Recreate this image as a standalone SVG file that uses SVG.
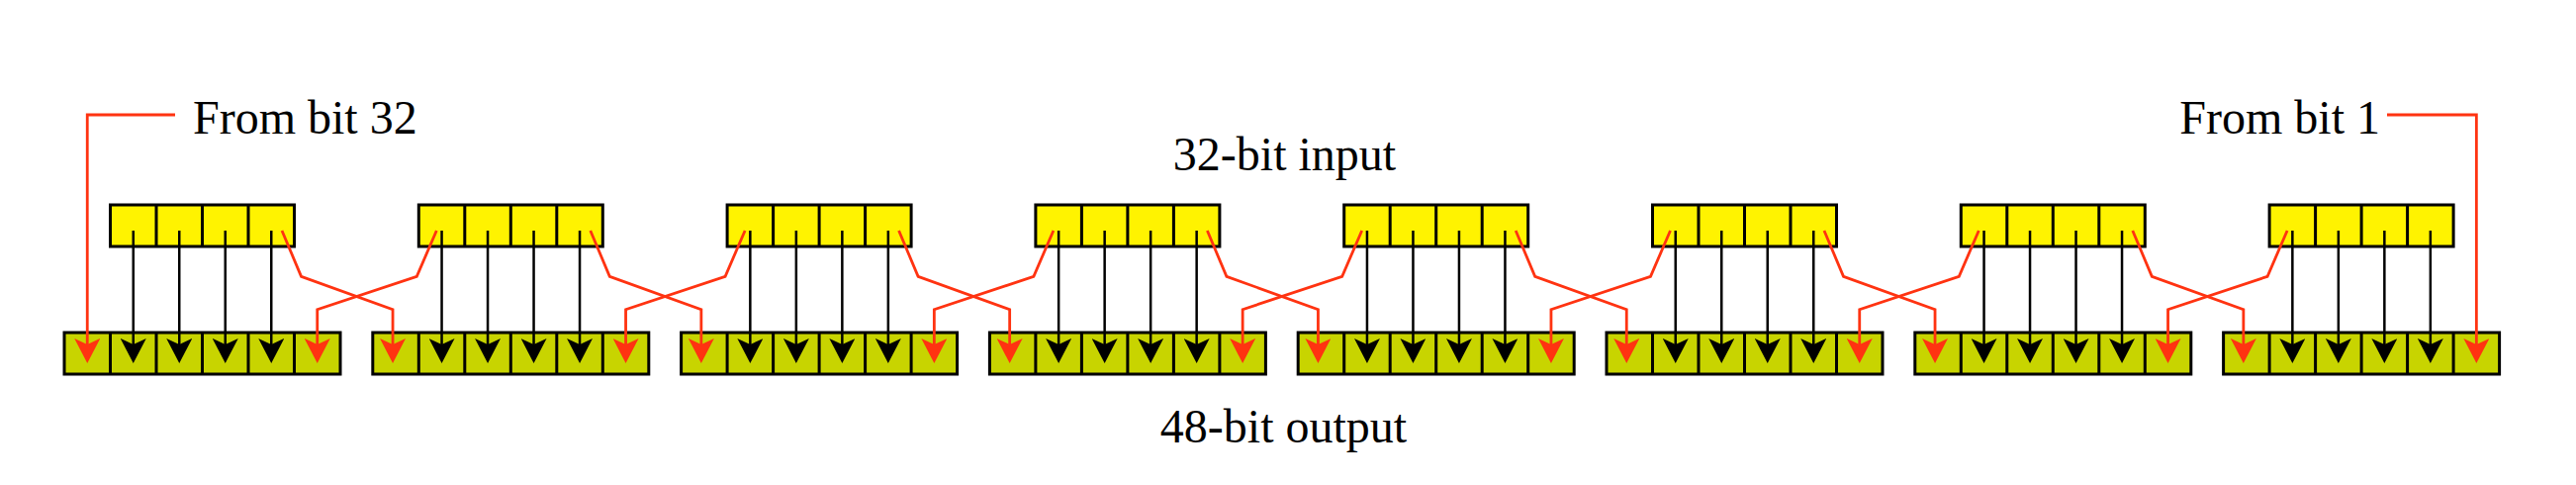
<svg xmlns="http://www.w3.org/2000/svg" width="2604" height="490" viewBox="0 0 2604 490">
<style>
.in{fill:#fff300;stroke:#000;stroke-width:3}
.out{fill:#c8d400;stroke:#000;stroke-width:3}
.div{fill:none;stroke:#000;stroke-width:3}
.blk{fill:none;stroke:#000;stroke-width:2.5;marker-end:url(#ah-b)}
.red{fill:none;stroke:#ff3311;stroke-width:2.8;stroke-linejoin:miter;marker-end:url(#ah-r)}
.lbl{font-family:"Liberation Serif","Times New Roman",serif;font-size:48px;fill:#000}
</style>
<defs>
<marker id="ah-b" viewBox="0 -13 25 26" refX="17" refY="0" markerWidth="25" markerHeight="26" markerUnits="userSpaceOnUse" orient="auto">
<path d="M0,-13 L25,0 L0,13 L6,0 Z" fill="#000"/>
</marker>
<marker id="ah-r" viewBox="0 -13 25 26" refX="17" refY="0" markerWidth="25" markerHeight="26" markerUnits="userSpaceOnUse" orient="auto">
<path d="M0,-13 L25,0 L0,13 L6,0 Z" fill="#ff3311"/>
</marker>
</defs>
<rect width="2604" height="490" fill="#fff"/>

<g id="labels">
<text id="lbl-input" class="lbl" x="1298.5" y="172" text-anchor="middle">32-bit input</text>
<text id="lbl-output" class="lbl" x="1297.5" y="447" text-anchor="middle">48-bit output</text>
<text id="lbl-bit32" class="lbl" x="195" y="135">From bit 32</text>
<text id="lbl-bit1" class="lbl" x="2406" y="135" text-anchor="end">From bit 1</text>
</g>

<g id="outputs">
<g id="out1" transform="translate(65 0)"><rect class="out" x="0" y="336" width="279" height="42"/><path class="div" d="M46.5 336V378M93 336V378M139.5 336V378M186 336V378M232.5 336V378"/></g>
<g id="out2" transform="translate(376.8 0)"><rect class="out" x="0" y="336" width="279" height="42"/><path class="div" d="M46.5 336V378M93 336V378M139.5 336V378M186 336V378M232.5 336V378"/></g>
<g id="out3" transform="translate(688.6 0)"><rect class="out" x="0" y="336" width="279" height="42"/><path class="div" d="M46.5 336V378M93 336V378M139.5 336V378M186 336V378M232.5 336V378"/></g>
<g id="out4" transform="translate(1000.4 0)"><rect class="out" x="0" y="336" width="279" height="42"/><path class="div" d="M46.5 336V378M93 336V378M139.5 336V378M186 336V378M232.5 336V378"/></g>
<g id="out5" transform="translate(1312.2 0)"><rect class="out" x="0" y="336" width="279" height="42"/><path class="div" d="M46.5 336V378M93 336V378M139.5 336V378M186 336V378M232.5 336V378"/></g>
<g id="out6" transform="translate(1624 0)"><rect class="out" x="0" y="336" width="279" height="42"/><path class="div" d="M46.5 336V378M93 336V378M139.5 336V378M186 336V378M232.5 336V378"/></g>
<g id="out7" transform="translate(1935.8 0)"><rect class="out" x="0" y="336" width="279" height="42"/><path class="div" d="M46.5 336V378M93 336V378M139.5 336V378M186 336V378M232.5 336V378"/></g>
<g id="out8" transform="translate(2247.6 0)"><rect class="out" x="0" y="336" width="279" height="42"/><path class="div" d="M46.5 336V378M93 336V378M139.5 336V378M186 336V378M232.5 336V378"/></g>
</g>

<g id="inputs">
<g id="in1" transform="translate(111.5 0)"><rect class="in" x="0" y="207" width="186" height="42"/><path class="div" d="M46.5 207V249M93 207V249M139.5 207V249"/></g>
<g id="in2" transform="translate(423.3 0)"><rect class="in" x="0" y="207" width="186" height="42"/><path class="div" d="M46.5 207V249M93 207V249M139.5 207V249"/></g>
<g id="in3" transform="translate(735.1 0)"><rect class="in" x="0" y="207" width="186" height="42"/><path class="div" d="M46.5 207V249M93 207V249M139.5 207V249"/></g>
<g id="in4" transform="translate(1046.9 0)"><rect class="in" x="0" y="207" width="186" height="42"/><path class="div" d="M46.5 207V249M93 207V249M139.5 207V249"/></g>
<g id="in5" transform="translate(1358.7 0)"><rect class="in" x="0" y="207" width="186" height="42"/><path class="div" d="M46.5 207V249M93 207V249M139.5 207V249"/></g>
<g id="in6" transform="translate(1670.5 0)"><rect class="in" x="0" y="207" width="186" height="42"/><path class="div" d="M46.5 207V249M93 207V249M139.5 207V249"/></g>
<g id="in7" transform="translate(1982.3 0)"><rect class="in" x="0" y="207" width="186" height="42"/><path class="div" d="M46.5 207V249M93 207V249M139.5 207V249"/></g>
<g id="in8" transform="translate(2294.1 0)"><rect class="in" x="0" y="207" width="186" height="42"/><path class="div" d="M46.5 207V249M93 207V249M139.5 207V249"/></g>
</g>

<g id="connectors">
<path class="red" d="M177 116H88.25V359"/>
<path class="red" d="M2413 116H2503.35V359"/>

<path class="blk" d="M134.75 233V359"/><path class="blk" d="M181.25 233V359"/><path class="blk" d="M227.75 233V359"/><path class="blk" d="M274.25 233V359"/>
<path class="blk" d="M446.55 233V359"/><path class="blk" d="M493.05 233V359"/><path class="blk" d="M539.55 233V359"/><path class="blk" d="M586.05 233V359"/>
<path class="blk" d="M758.35 233V359"/><path class="blk" d="M804.85 233V359"/><path class="blk" d="M851.35 233V359"/><path class="blk" d="M897.85 233V359"/>
<path class="blk" d="M1070.15 233V359"/><path class="blk" d="M1116.65 233V359"/><path class="blk" d="M1163.15 233V359"/><path class="blk" d="M1209.65 233V359"/>
<path class="blk" d="M1381.95 233V359"/><path class="blk" d="M1428.45 233V359"/><path class="blk" d="M1474.95 233V359"/><path class="blk" d="M1521.45 233V359"/>
<path class="blk" d="M1693.75 233V359"/><path class="blk" d="M1740.25 233V359"/><path class="blk" d="M1786.75 233V359"/><path class="blk" d="M1833.25 233V359"/>
<path class="blk" d="M2005.55 233V359"/><path class="blk" d="M2052.05 233V359"/><path class="blk" d="M2098.55 233V359"/><path class="blk" d="M2145.05 233V359"/>
<path class="blk" d="M2317.35 233V359"/><path class="blk" d="M2363.85 233V359"/><path class="blk" d="M2410.35 233V359"/><path class="blk" d="M2456.85 233V359"/>

<path class="red" d="M285 233L304.5 279.3L397.05 312.7V359"/>
<path class="red" d="M441.3 233L421.3 279.3L320.75 312.7V359"/>
<path class="red" d="M596.8 233L616.3 279.3L708.85 312.7V359"/>
<path class="red" d="M753.1 233L733.1 279.3L632.55 312.7V359"/>
<path class="red" d="M908.6 233L928.1 279.3L1020.65 312.7V359"/>
<path class="red" d="M1064.9 233L1044.9 279.3L944.35 312.7V359"/>
<path class="red" d="M1220.4 233L1239.9 279.3L1332.45 312.7V359"/>
<path class="red" d="M1376.7 233L1356.7 279.3L1256.15 312.7V359"/>
<path class="red" d="M1532.2 233L1551.7 279.3L1644.25 312.7V359"/>
<path class="red" d="M1688.5 233L1668.5 279.3L1567.95 312.7V359"/>
<path class="red" d="M1844 233L1863.5 279.3L1956.05 312.7V359"/>
<path class="red" d="M2000.3 233L1980.3 279.3L1879.75 312.7V359"/>
<path class="red" d="M2155.8 233L2175.3 279.3L2267.85 312.7V359"/>
<path class="red" d="M2312.1 233L2292.1 279.3L2191.55 312.7V359"/>
</g>
</svg>
